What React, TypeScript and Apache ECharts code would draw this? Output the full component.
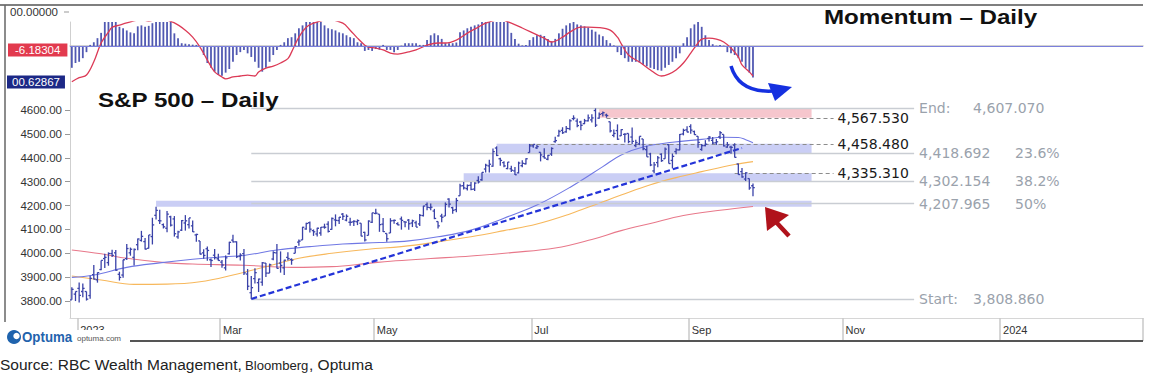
import React, { useEffect, useRef } from "react";
import * as echarts from "echarts";

const FONT = "'Liberation Sans', Arial, sans-serif";
const FONT2 = "'DejaVu Sans', 'Liberation Sans', sans-serif";

// ---------- categories (trading days; future part = plain weekdays) ----------
const FIRST_DAY = "2022-12-29";
const LAST_DATA_DAY = "2023-09-27";
const CATEGORY_COUNT = 293;
const holidays = ["2023-01-02", "2023-01-16", "2023-02-20", "2023-04-07", "2023-05-29", "2023-06-19", "2023-07-04", "2023-09-04"];
const monthNames = ["Jan", "Feb", "Mar", "Apr", "May", "Jun", "Jul", "Aug", "Sep", "Oct", "Nov", "Dec"];

// ---------- S&P 500 daily OHLC (Dec 29 2022 .. Sep 27 2023) ----------
const opens = [
  3805, 3829,
  3853, 3840, 3840, 3823, 3911, 3889, 3932, 3978, 3961, 3999, 4002, 3912, 3909, 3978, 4002, 3983, 4036, 4054, 4049, 4021,
  4070, 4159, 4137, 4120, 4105, 4153, 4144, 4069, 4097, 4127, 4120, 4115, 4077, 4052, 4002, 4019, 3973, 3992, 3977,
  3963, 3939, 3998, 4055, 4048, 3988, 3999, 3913, 3835, 3894, 3877, 3879, 3959, 3917, 3976, 4002, 3959, 3939, 3983, 3974, 4000, 4047, 4056,
  4102, 4128, 4095, 4081, 4085, 4110, 4122, 4100, 4140, 4137, 4164, 4139, 4130, 4132, 4132, 4126, 4088, 4075, 4130,
  4167, 4164, 4122, 4083, 4085, 4137, 4124, 4144, 4132, 4139, 4127, 4128, 4123, 4158, 4204, 4191, 4177, 4133, 4156, 4156, 4227, 4191,
  4183, 4241, 4283, 4271, 4285, 4269, 4305, 4308, 4353, 4366, 4365, 4441, 4396, 4380, 4355, 4354, 4345, 4337, 4367, 4375, 4422,
  4450, 4442, 4423, 4405, 4394, 4416, 4468, 4492, 4515, 4509, 4522, 4564, 4554, 4550, 4543, 4555, 4559, 4598, 4566, 4585,
  4579, 4551, 4494, 4514, 4492, 4498, 4502, 4487, 4451, 4458, 4479, 4434, 4416, 4345, 4380, 4415, 4396, 4455, 4389, 4426, 4433, 4500, 4517,
  4531, 4510, 4490, 4435, 4451, 4481, 4473, 4463, 4488, 4498, 4445, 4445, 4453, 4374, 4342, 4311, 4313, 4283,
];
const highs = [
  3858, 3840,
  3878, 3873, 3840, 3906, 3951, 3920, 3970, 3998, 4004, 4015, 4014, 3923, 3973, 4039, 4024, 4020, 4062, 4094, 4064, 4077,
  4149, 4195, 4182, 4125, 4177, 4157, 4156, 4094, 4139, 4160, 4148, 4137, 4082, 4052, 4017, 4028, 3978, 4018, 3998,
  3972, 3991, 4048, 4078, 4050, 4000, 4018, 3934, 3905, 3937, 3894, 3964, 3959, 3957, 4009, 4039, 4008, 3973, 4004, 3979, 4031, 4058, 4111,
  4128, 4133, 4100, 4107, 4110, 4124, 4134, 4150, 4163, 4152, 4169, 4163, 4149, 4138, 4142, 4126, 4090, 4138, 4170,
  4187, 4164, 4148, 4083, 4147, 4142, 4130, 4154, 4133, 4144, 4141, 4136, 4165, 4199, 4213, 4209, 4186, 4133, 4166, 4213, 4231, 4195,
  4232, 4291, 4299, 4288, 4299, 4298, 4323, 4340, 4375, 4392, 4439, 4448, 4400, 4386, 4382, 4367, 4362, 4384, 4390, 4398, 4458,
  4456, 4454, 4423, 4440, 4413, 4444, 4488, 4517, 4528, 4533, 4562, 4578, 4565, 4555, 4563, 4581, 4582, 4607, 4590, 4594,
  4585, 4551, 4519, 4540, 4520, 4503, 4502, 4527, 4476, 4490, 4479, 4450, 4421, 4382, 4408, 4419, 4443, 4458, 4418, 4440, 4500, 4522, 4532,
  4541, 4514, 4490, 4458, 4474, 4491, 4487, 4479, 4512, 4498, 4466, 4450, 4461, 4376, 4357, 4339, 4313, 4292,
];
const lows = [
  3805, 3800,
  3794, 3816, 3802, 3810, 3890, 3877, 3929, 3938, 3948, 3985, 3927, 3886, 3898, 3972, 3990, 3949, 4013, 4049, 4016, 4020,
  4037, 4142, 4123, 4104, 4088, 4112, 4070, 4061, 4093, 4095, 4104, 4089, 4048, 3995, 3977, 3969, 3943, 3974, 3969,
  3939, 3928, 3995, 4045, 3980, 3970, 3909, 3846, 3809, 3874, 3838, 3864, 3901, 3917, 3971, 3936, 3919, 3909, 3970, 3952, 4000, 4032, 4056,
  4099, 4087, 4073, 4070, 4073, 4103, 4087, 4099, 4113, 4123, 4140, 4134, 4115, 4114, 4118, 4071, 4049, 4075, 4127,
  4164, 4090, 4089, 4048, 4085, 4124, 4117, 4099, 4109, 4099, 4110, 4110, 4114, 4154, 4180, 4180, 4143, 4104, 4130, 4156, 4192, 4166,
  4172, 4241, 4267, 4263, 4264, 4261, 4292, 4304, 4338, 4338, 4363, 4407, 4367, 4360, 4352, 4341, 4328, 4335, 4360, 4372, 4422,
  4442, 4437, 4385, 4397, 4390, 4408, 4463, 4489, 4500, 4505, 4515, 4557, 4528, 4515, 4541, 4552, 4548, 4529, 4564, 4573,
  4568, 4506, 4486, 4475, 4491, 4464, 4461, 4458, 4444, 4453, 4432, 4404, 4365, 4335, 4360, 4383, 4396, 4376, 4356, 4415, 4432, 4494, 4507,
  4501, 4496, 4442, 4430, 4448, 4468, 4457, 4454, 4479, 4447, 4442, 4417, 4401, 4329, 4316, 4303, 4266, 4239,
];
const closes = [
  3849, 3840,
  3824, 3853, 3808, 3895, 3892, 3919, 3970, 3983, 3999, 3991, 3929, 3899, 3973, 4020, 4017, 4016, 4060, 4071, 4018, 4077,
  4119, 4180, 4136, 4111, 4164, 4118, 4082, 4090, 4137, 4136, 4148, 4090, 4079, 3997, 3991, 4012, 3970, 3982, 3970,
  3951, 3981, 4046, 4048, 3986, 3992, 3918, 3862, 3856, 3919, 3892, 3960, 3917, 3952, 4003, 3937, 3949, 3971, 3978, 3971, 4028, 4051, 4109,
  4125, 4101, 4090, 4105, 4109, 4109, 4092, 4146, 4138, 4151, 4155, 4155, 4130, 4134, 4137, 4072, 4056, 4135, 4169,
  4168, 4120, 4091, 4061, 4136, 4138, 4119, 4138, 4131, 4124, 4136, 4110, 4159, 4198, 4192, 4193, 4146, 4115, 4151, 4205, 4206, 4180,
  4221, 4282, 4274, 4284, 4268, 4294, 4299, 4339, 4369, 4373, 4426, 4410, 4389, 4366, 4382, 4348, 4329, 4378, 4377, 4396, 4450,
  4456, 4447, 4412, 4399, 4410, 4439, 4472, 4510, 4505, 4523, 4555, 4566, 4535, 4536, 4555, 4567, 4567, 4537, 4582, 4589,
  4577, 4513, 4502, 4478, 4518, 4499, 4468, 4469, 4464, 4490, 4438, 4404, 4370, 4370, 4400, 4388, 4436, 4376, 4406, 4433, 4498, 4515, 4508,
  4516, 4497, 4465, 4451, 4457, 4487, 4462, 4467, 4505, 4450, 4454, 4444, 4402, 4330, 4320, 4337, 4274, 4275,
];

// moving averages: [trading-day index, value]
const ma50 = [[0, 3899], [6, 3909], [15, 3941], [24, 3960], [33, 3975], [42, 3986], [47, 3991], [56, 4014], [65, 4028], [74, 4039], [84, 4045], [92, 4052], [100, 4069], [109, 4097], [118, 4147], [127, 4202], [136, 4276], [145, 4363], [150, 4412], [156, 4445], [164, 4465], [172, 4477], [178, 4486], [182, 4485], [184, 4476], [186, 4463]];
const ma100 = [[0, 3905], [8, 3888], [17, 3870], [26, 3871], [35, 3881], [44, 3909], [53, 3944], [62, 3979], [71, 4000], [81, 4017], [90, 4028], [100, 4048], [109, 4069], [118, 4095], [127, 4123], [136, 4165], [144, 4210], [150, 4244], [158, 4287], [165, 4317], [172, 4342], [181, 4372], [186, 4384]];
const ma200 = [[0, 4014], [8, 3998], [15, 3979], [26, 3960], [33, 3955], [47, 3950], [60, 3941], [71, 3944], [81, 3958], [87, 3967], [98, 3978], [109, 3989], [120, 4003], [132, 4022], [142, 4058], [150, 4095], [158, 4125], [167, 4158], [177, 4180], [186, 4196]];

// momentum histogram (one per trading day) and its signal line
const momentum = [
  -9, -7, -6.5, -5, -2.5, 0.5, 1.6, 3.3, 5.5, 10,
  10, 10, 10, 8, 7.4, 6.5, 5.7, 5.3, 8.2, 8.6,
  8, 8.4, 9.5, 10, 10, 10, 10, 10, 5.3, 3.3,
  1.2, 1, 0.8, 0.6, 0.5, 0, -3.7, -7, -9, -10.6,
  -12, -12.3, -11, -9.5, -6.5, -3.7, -2.5, -1.6, -3, -4.5,
  -6.5, -9, -10.6, -9, -6.5, -3.7, -1.6, 0.5, 1.6, 3.3,
  3.7, 5.3, 7.4, 8.6, 10, 10, 10, 10, 10, 8.6,
  7.4, 7, 6.5, 5.7, 5.3, 4.5, 3.7, 3.3, 1.6, 1.2,
  -2, -1.6, -2, -1.2, -1.5, 0.5, -1.6, -1.6, -2.5, -1.6,
  0.2, 1.2, 1.2, 1.2, 1.2, 0.5, 0.5, 2.5, 4.5, 5.3,
  4.5, 3, 1.2, 1.2, 1.2, 1.5, 5.7, 6.5, 7.4, 8,
  8.6, 9, 10, 10, 10, 10, 10, 10, 10, 10,
  5.5, 3, 1, 0.3, 0.5, 2.5, 3.7, 4.5, 4.7, 4.2,
  3, 2, 3, 5.3, 7.2, 8.6, 9.5, 10, 9, 8.6,
  8.2, 7.7, 6.8, 6, 4.8, 4.1, 2.5, 1.2, 0.3, -2.5,
  -3.7, -5, -6.5, -6.5, -6.5, -6.8, -7.8, -8.4, -9, -9.5,
  -10, -10.2, -9, -7.8, -6.5, -5, -3, 1.2, 3.7, 7.4,
  9, 10, 8, 4.5, 2.5, 0.8, 0.2, 0.5, 0.2, -2.5,
  -3, -3.7, -5, -6.5, -9, -11, -13,
];
const signal = [[0, -14.8], [2, -13.1], [4, -12], [6, -6.5], [8, 1.3], [10, 5.8], [11, 7.8], [13, 8.7], [15, 9.6], [19, 11], [21, 10.4], [24, 11.5], [28, 9.6], [31, 6.6], [33, 3.7], [35, -0.4], [37, -5.8], [39, -10.7], [41, -12.8], [42, -13.6], [44, -12.8], [46, -12.4], [48, -12], [50, -12.4], [51, -10.7], [53, -9.1], [55, -8.3], [57, -7], [59, -5.2], [60, -2.5], [62, 3.7], [64, 7.8], [66, 9.5], [70, 11], [74, 9.5], [76, 6.6], [78, 3.3], [80, 0.4], [81, -0.4], [83, -0.8], [85, -1.6], [87, -2.9], [89, -3.3], [92, -2.4], [94, -1.6], [97, 0.4], [100, 1.3], [102, 1.3], [105, 2.5], [108, 5.4], [111, 7.9], [113, 9.5], [117, 11], [120, 9.5], [123, 7.5], [126, 5.4], [129, 3.3], [131, 1.7], [134, 3.7], [136, 5.8], [139, 7.9], [141, 7.9], [144, 7.7], [147, 6.6], [149, 3.7], [150, 1], [152, -3.7], [155, -6.6], [158, -9.9], [160, -12], [161, -12.4], [163, -11.6], [165, -9.9], [167, -7], [169, -2.9], [171, 1.3], [172, 2.9], [174, 3.3], [176, 2.9], [178, 1.7], [180, -0.8], [182, -4.5], [183, -7.8], [185, -10.7], [186, -12.4]];

// ---------- annotations ----------
const yTicks = [3800, 3900, 4000, 4100, 4200, 4300, 4400, 4500, 4600];
const fibLevels = [
  { value: 4607.07, name: "End:", text: "4,607.070" },
  { value: 4418.692, name: "4,418.692", text: "23.6%" },
  { value: 4302.154, name: "4,302.154", text: "38.2%" },
  { value: 4207.965, name: "4,207.965", text: "50%" },
  { value: 3808.86, name: "Start:", text: "3,808.860" },
];
const FIB_FROM = 49;
const FIB_TO = 230;
const dashedLevels = [
  { value: 4567.53, from: 146, text: "4,567.530" },
  { value: 4458.48, from: 125, text: "4,458.480" },
  { value: 4335.31, from: 181, text: "4,335.310" },
];
const DASH_TO = 208;
const bands = [
  { from: 116, to: 202, hi: 4458.48, lo: 4418.69 },
  { from: 107, to: 202, hi: 4335.31, lo: 4302.15 },
  { from: 23, to: 202, hi: 4220, lo: 4195.44 },
];
const resistanceZone = { from: 144, to: 202, hi: 4607.07, lo: 4567.53 };
const trendLine = [[49, 3808.86], [183, 4441]];
const lastValues = [
  { value: 4462.96, text: "4,462.96", color: "#2f3ff0" },
  { value: 4383.04, text: "4,383.04", color: "#f8a62c" },
  { value: 4274.52, text: "4,274.52", color: "#1b2484" },
  { value: 4196.15, text: "4,196.15", color: "#e2283e" },
];

function buildCategories(): string[] {
  const out: string[] = [];
  const d = new Date(FIRST_DAY + "T00:00:00Z");
  while (out.length < CATEGORY_COUNT) {
    const s = d.toISOString().slice(0, 10);
    const wd = d.getUTCDay();
    const hol = s <= LAST_DATA_DAY && holidays.includes(s);
    if (wd !== 0 && wd !== 6 && !hol) out.push(s);
    d.setUTCDate(d.getUTCDate() + 1);
  }
  return out;
}

export default function App() {
  const ref = useRef<HTMLDivElement>(null);
  useEffect(() => {
    if (!ref.current) return;
    const chart = echarts.init(ref.current, null, { renderer: "svg" });
    const cats = buildCategories();
    const isLabel = (i: number) => {
      if (i <= 0 || i >= cats.length) return false;
      const m = cats[i].slice(5, 7);
      return m !== cats[i - 1].slice(5, 7) && parseInt(m, 10) % 2 === 1;
    };
    const ohlc = opens.map((o, i) => [i, o, highs[i], lows[i], closes[i]]);

    const option: any = {
      animation: false,
      textStyle: { fontFamily: FONT },
      grid: [
        { left: 70, right: 7, top: 90, height: 228 },
        { left: 70, right: 7, top: 22, height: 68 },
      ],
      xAxis: [
        {
          type: "category", gridIndex: 0, data: cats, boundaryGap: true,
          axisLine: { show: true, lineStyle: { color: "#d6d6d6", width: 1 } },
          axisTick: { show: true, interval: (i: number) => isLabel(i), length: 23, lineStyle: { color: "#c8c8c8", width: 1.5 } },
          axisLabel: {
            show: true, interval: (i: number) => isLabel(i), align: "left", margin: 6,
            color: "#333", fontSize: 11, fontFamily: FONT, padding: [0, 0, 0, 1],
            formatter: (v: string) => { const m = parseInt(v.slice(5, 7), 10); return m === 1 ? v.slice(0, 4) : monthNames[m - 1]; },
          },
          splitLine: { show: false },
        },
        {
          type: "category", gridIndex: 1, data: cats, boundaryGap: true,
          axisLine: { show: true, lineStyle: { color: "#c4c4c4", width: 1.5 } },
          axisTick: { show: false }, axisLabel: { show: false }, splitLine: { show: false },
        },
      ],
      yAxis: [
        {
          type: "value", gridIndex: 0, min: 3729, max: 4684,
          axisLine: { show: true, lineStyle: { color: "#cfcfcf" } },
          axisTick: { show: true, customValues: yTicks, length: 5, lineStyle: { color: "#999" } },
          axisLabel: { show: true, customValues: yTicks, margin: 8, color: "#333", fontSize: 11.5, fontFamily: FONT, formatter: (v: number) => v.toFixed(2) },
          splitLine: { show: false },
        },
        {
          type: "value", gridIndex: 1, min: -18.2, max: 10,
          axisLine: { show: true, lineStyle: { color: "#cfcfcf" } },
          axisTick: { show: false }, axisLabel: { show: false }, splitLine: { show: false },
        },
      ],
      series: [
        // bands & resistance zone
        {
          type: "line", xAxisIndex: 0, yAxisIndex: 0, data: [], z: 1, silent: true,
          markArea: {
            silent: true,
            data: [
              ...bands.map((b) => [
                { coord: [b.from, b.hi], itemStyle: { color: "rgba(128,138,232,0.42)" } },
                { coord: [b.to, b.lo] },
              ]),
              [
                { coord: [resistanceZone.from, resistanceZone.hi], itemStyle: { color: "rgba(240,160,172,0.6)" } },
                { coord: [resistanceZone.to, resistanceZone.lo] },
              ],
            ],
          },
        },
        // fibonacci lines + dashed levels
        {
          type: "line", xAxisIndex: 0, yAxisIndex: 0, data: [], z: 2, silent: true,
          markLine: {
            silent: true, symbol: "none", animation: false,
            data: [
              ...fibLevels.map((f) => [
                {
                  coord: [FIB_FROM, f.value],
                  lineStyle: { color: "#c9cdd3", width: 1.3, type: "solid" },
                  label: {
                    show: true, position: "end", distance: 5,
                    formatter: `{a|${f.name}}{b|${f.text}}`,
                    rich: {
                      a: { width: f.name.endsWith(":") ? 54 : 96, color: "#9aa2ac", fontSize: 14, fontFamily: FONT2 },
                      b: { color: "#9aa2ac", fontSize: 14, fontFamily: FONT2 },
                    },
                  },
                },
                { coord: [FIB_TO, f.value] },
              ]),
              ...dashedLevels.map((d) => [
                {
                  coord: [d.from, d.value],
                  lineStyle: { color: "#8c8c8c", width: 1.2, type: [4, 3] },
                  label: { show: true, position: "end", distance: 4, formatter: d.text, color: "#1a1a1a", fontSize: 14, fontFamily: FONT2 },
                },
                { coord: [DASH_TO, d.value] },
              ]),
            ],
          },
        },
        { type: "line", xAxisIndex: 0, yAxisIndex: 0, data: ma200, smooth: 0.4, showSymbol: false, z: 3, silent: true, lineStyle: { color: "#e8788a", width: 1.1 } },
        { type: "line", xAxisIndex: 0, yAxisIndex: 0, data: ma100, smooth: 0.4, showSymbol: false, z: 3, silent: true, lineStyle: { color: "#f7b85c", width: 1.1 } },
        { type: "line", xAxisIndex: 0, yAxisIndex: 0, data: ma50, smooth: 0.4, showSymbol: false, z: 3, silent: true, lineStyle: { color: "#7078e4", width: 1.1 } },
        // OHLC bars
        {
          type: "custom", xAxisIndex: 0, yAxisIndex: 0, data: ohlc, z: 5, silent: true,
          encode: { x: 0, y: [1, 2, 3, 4] },
          renderItem: (params: any, api: any) => {
            const i = api.value(0);
            const pO = api.coord([i, api.value(1)]);
            const pH = api.coord([i, api.value(2)]);
            const pL = api.coord([i, api.value(3)]);
            const pC = api.coord([i, api.value(4)]);
            const st = { stroke: "#3a42a8", lineWidth: 1.3 };
            return {
              type: "group",
              children: [
                { type: "line", shape: { x1: pH[0], y1: pH[1], x2: pL[0], y2: pL[1] }, style: st },
                { type: "line", shape: { x1: pO[0] - 1.8, y1: pO[1], x2: pO[0], y2: pO[1] }, style: st },
                { type: "line", shape: { x1: pC[0], y1: pC[1], x2: pC[0] + 1.8, y2: pC[1] }, style: st },
              ],
            };
          },
        },
        // trend line
        {
          type: "line", xAxisIndex: 0, yAxisIndex: 0, data: [], z: 6, silent: true,
          markLine: {
            silent: true, symbol: "none",
            data: [[
              { coord: trendLine[0], lineStyle: { color: "#2434d8", width: 2.2, type: [6, 3] }, label: { show: false } },
              { coord: trendLine[1] },
            ]],
          },
        },
        // last-value boxes on the price axis
        {
          type: "line", xAxisIndex: 0, yAxisIndex: 0, data: [], z: 10, silent: true,
          markLine: {
            silent: true, symbol: "none",
            lineStyle: { opacity: 0 },
            data: lastValues.map((m) => ({
              yAxis: m.value,
              label: {
                show: true, position: "start", distance: 4, formatter: m.text,
                color: "#fff", backgroundColor: m.color, fontSize: 11.5, fontFamily: FONT,
                padding: [1, 5, 0, 5], lineHeight: 12,
              },
            })),
          },
        },
        // momentum
        {
          type: "bar", xAxisIndex: 1, yAxisIndex: 1, data: momentum, barWidth: 1.8, z: 3, silent: true,
          itemStyle: { color: "#5159b2" },
          markLine: {
            silent: true, symbol: "none",
            data: [{ yAxis: 0, lineStyle: { color: "#7b7fdc", width: 1.2, type: "solid" }, label: { show: false } }],
          },
        },
        { type: "line", xAxisIndex: 1, yAxisIndex: 1, data: signal, smooth: 0.35, showSymbol: false, z: 4, silent: true, lineStyle: { color: "#dc3a56", width: 1.3 } },
      ],
      graphic: [
        { type: "line", z: 100, shape: { x1: 0, y1: 5, x2: 1143, y2: 5 }, style: { stroke: "#555", lineWidth: 1.5 } },
        { type: "line", z: 100, shape: { x1: 5, y1: 5, x2: 5, y2: 322 }, style: { stroke: "#666", lineWidth: 1.5 } },
        { type: "line", z: 100, shape: { x1: 130, y1: 341, x2: 1143, y2: 341 }, style: { stroke: "#555", lineWidth: 2 } },
        { type: "text", z: 100, x: 10, y: 12, style: { text: "00.00000", fill: "#333", fontSize: 11.5, fontFamily: FONT, verticalAlign: "middle" } },
        { type: "line", z: 100, shape: { x1: 64, y1: 12, x2: 69, y2: 12 }, style: { stroke: "#999", lineWidth: 1 } },
        { type: "text", z: 100, x: 8, y: 50, style: { text: "-6.18304", fill: "#fff", backgroundColor: "#e23a4e", padding: [1, 7, 0, 7], fontSize: 11.5, fontFamily: FONT, verticalAlign: "middle" } },
        { type: "text", z: 100, x: 7, y: 82, style: { text: "00.62867", fill: "#fff", backgroundColor: "#1c2886", padding: [1, 5, 0, 5], fontSize: 11.5, fontFamily: FONT, verticalAlign: "middle" } },
        { type: "text", z: 100, x: 824, y: 17, scaleX: 1.15, style: { text: "Momentum – Daily", fill: "#111", fontSize: 21, fontWeight: "bold", fontFamily: FONT, verticalAlign: "middle" } },
        { type: "text", z: 100, x: 98, y: 100, scaleX: 1.15, style: { text: "S&P 500 – Daily", fill: "#111", fontSize: 21, fontWeight: "bold", fontFamily: FONT, verticalAlign: "middle" } },
        { type: "bezierCurve", z: 100, shape: { x1: 731, y1: 66, cpx1: 739, cpy1: 93, x2: 773, y2: 91 }, style: { stroke: "#1530e0", lineWidth: 3.5, fill: "none" } },
        { type: "polygon", z: 100, shape: { points: [[768, 83], [792, 87], [775, 101]] }, style: { fill: "#1530e0" } },
        { type: "line", z: 100, shape: { x1: 776, y1: 222, x2: 789, y2: 236 }, style: { stroke: "#b0121b", lineWidth: 4.5 } },
        { type: "polygon", z: 100, shape: { points: [[765, 207], [767, 231], [789, 215]] }, style: { fill: "#b0121b" } },
        { type: "rect", z: 100, shape: { x: 6, y: 330, width: 124, height: 16 }, style: { fill: "#fff" } },
        { type: "circle", z: 101, shape: { cx: 14, cy: 337, r: 7 }, style: { fill: "#1f63ad" } },
        { type: "circle", z: 102, shape: { cx: 16.5, cy: 336, r: 3.2 }, style: { fill: "#fff" } },
        { type: "text", z: 101, x: 22, y: 337, scaleX: 0.95, style: { text: "Optuma", fill: "#1f63ad", fontSize: 14, fontWeight: "bold", fontFamily: FONT, verticalAlign: "middle" } },
        { type: "text", z: 101, x: 77, y: 338, style: { text: "optuma.com", fill: "#555", fontSize: 8, fontFamily: FONT, verticalAlign: "middle" } },
        { type: "text", z: 100, x: 0, y: 356, style: { text: "Source: RBC Wealth Management,", fill: "#222", fontSize: 15.5, fontFamily: FONT } },
        { type: "text", z: 100, x: 245, y: 359, scaleX: 1.05, style: { text: "Bloomberg", fill: "#222", fontSize: 12.5, fontFamily: FONT } },
        { type: "text", z: 100, x: 309, y: 356, style: { text: ", Optuma", fill: "#222", fontSize: 15.5, fontFamily: FONT } },
      ],
    };
    chart.setOption(option);
    return () => chart.dispose();
  }, []);
  return (
    <div
      ref={ref}
      style={{ position: "absolute", left: 0, top: 0, width: 1150, height: 375, background: "#fff" }}
    />
  );
}
